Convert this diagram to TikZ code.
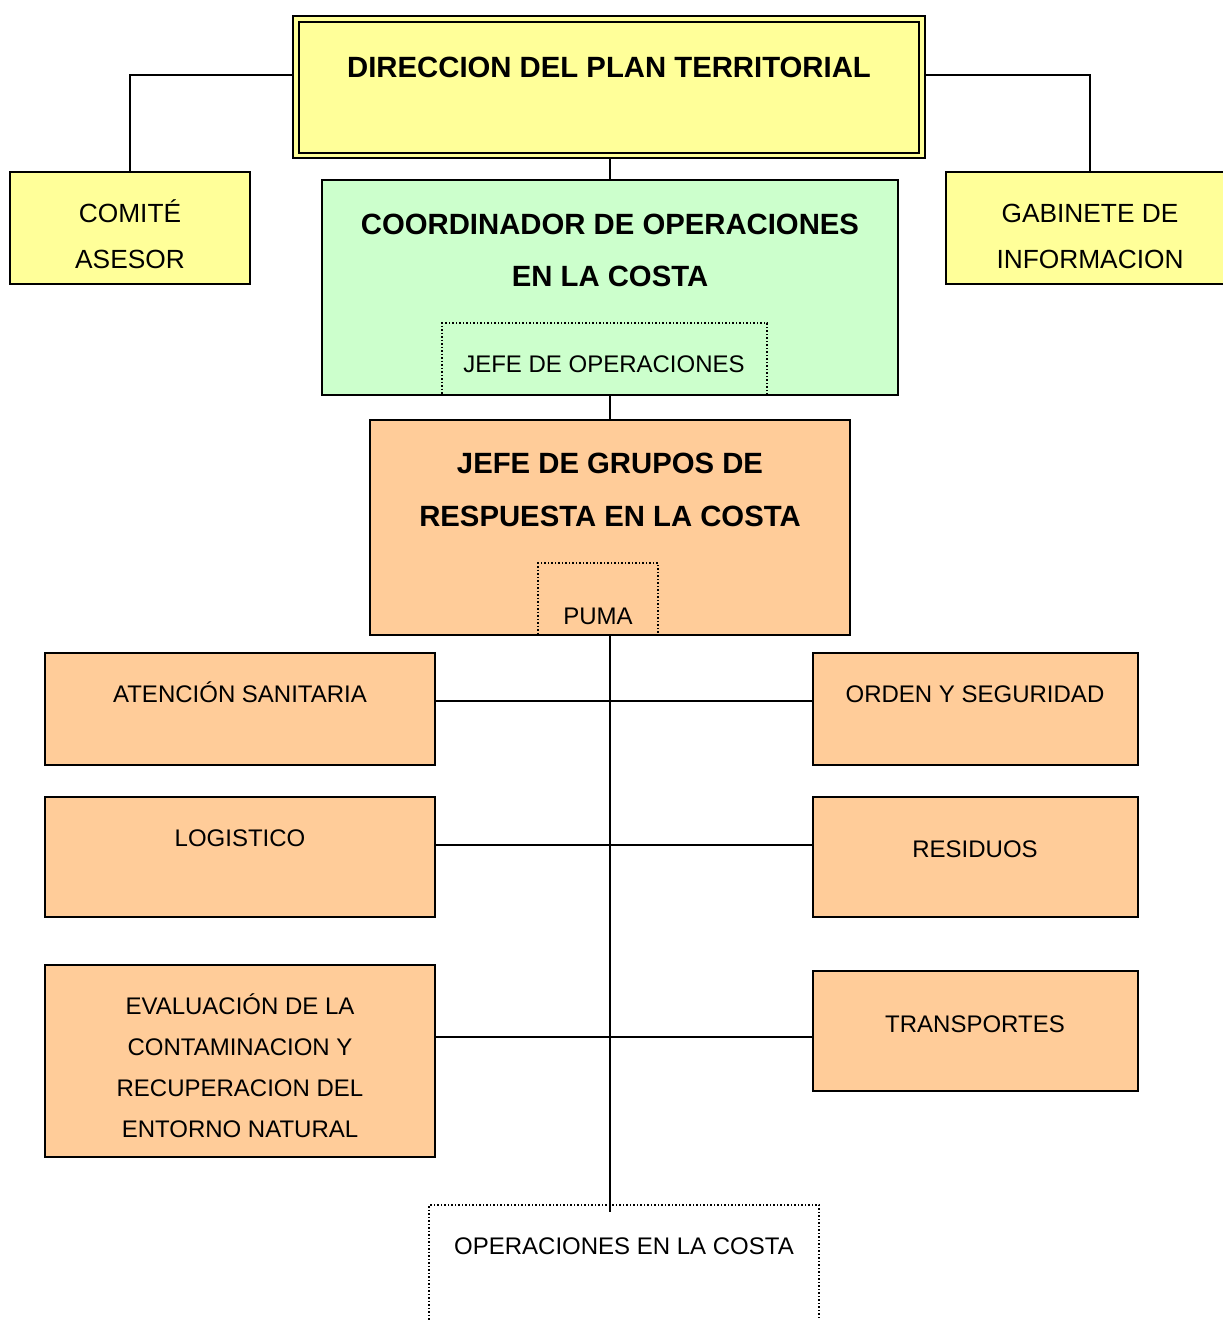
\documentclass[tikz,border=0pt]{standalone}
\usepackage{fontspec}
\setmainfont{Liberation Sans}
\usetikzlibrary{backgrounds}
\definecolor{cyellow}{HTML}{FFFF99}
\definecolor{cgreen}{HTML}{CCFFCC}
\definecolor{corange}{HTML}{FFCC99}
\begin{document}
\begin{tikzpicture}[x=1pt,y=-1pt,
  box/.style={draw=black, line width=1.5pt, inner sep=0pt, outer sep=0pt, rectangle},
  dotbox/.style={draw=black, dotted, line width=1.5pt, inner sep=0pt, outer sep=0pt, rectangle},
  conn/.style={draw=black, line width=1.8pt},
  txt/.style={anchor=base, inner sep=0pt, font=\fontsize{24}{28}\selectfont},
  side/.style={anchor=base, inner sep=0pt, font=\fontsize{26.3}{30}\selectfont},
  bold/.style={anchor=base, inner sep=0pt, font=\fontsize{29.3}{33}\selectfont\bfseries}]
\clip (0,0) rectangle (1223,1320);

% top box
\node[box, fill=cyellow, line width=2pt, double=cyellow, double distance=3.5pt,
      minimum width=626pt, minimum height=136.5pt] (dir) at (609,87.2) {};
\node[bold] (tdir) at (609,77) {DIRECCION DEL PLAN TERRITORIAL};

% side boxes
\node[box, fill=cyellow, minimum width=240pt, minimum height=112pt] (comite) at (130,228) {};
\node[side] (tcom1) at (130,222) {COMITÉ};
\node[side] (tcom2) at (130,268) {ASESOR};
\node[box, fill=cyellow, minimum width=288pt, minimum height=112pt] (gab) at (1090,228) {};
\node[side] (tgab1) at (1090,222) {GABINETE DE};
\node[side] (tgab2) at (1090,268) {INFORMACION};

% coordinador
\node[box, fill=cgreen, minimum width=576pt, minimum height=215pt] (coord) at (610,287.5) {};
\node[bold] (tco1) at (610,234) {COORDINADOR DE OPERACIONES};
\node[bold] (tco2) at (610,286) {EN LA COSTA};
\node[dotbox, minimum width=325pt, minimum height=72pt] (jop) at (604.5,359) {};
\node[txt] (tjop) at (604,372) {JEFE DE OPERACIONES};

% jefe de grupos
\node[box, fill=corange, minimum width=480pt, minimum height=215pt] (jg) at (610,527.5) {};
\node[bold] (tjg1) at (610,473) {JEFE DE GRUPOS DE};
\node[bold] (tjg2) at (610,526) {RESPUESTA EN LA COSTA};
\node[dotbox, minimum width=120pt, minimum height=72pt] (puma) at (598,599) {};
\node[txt] (tpuma) at (598,624) {PUMA};

% groups
\node[box, fill=corange, minimum width=390pt, minimum height=112pt] (aten) at (240,709) {};
\node[txt] (taten) at (240,702) {ATENCIÓN SANITARIA};
\node[box, fill=corange, minimum width=325pt, minimum height=112pt] (orden) at (975.5,709) {};
\node[txt] (torden) at (975,702) {ORDEN Y SEGURIDAD};
\node[box, fill=corange, minimum width=390pt, minimum height=120pt] (logi) at (240,857) {};
\node[txt] (tlogi) at (240,846) {LOGISTICO};
\node[box, fill=corange, minimum width=325pt, minimum height=120pt] (resi) at (975.5,857) {};
\node[txt] (tresi) at (975,857) {RESIDUOS};
\node[box, fill=corange, minimum width=390pt, minimum height=192pt] (eval) at (240,1061) {};
\node[txt] (tev1) at (240,1014) {EVALUACIÓN DE LA};
\node[txt] (tev2) at (240,1055) {CONTAMINACION Y};
\node[txt] (tev3) at (240,1096) {RECUPERACION DEL};
\node[txt] (tev4) at (240,1137) {ENTORNO NATURAL};
\node[box, fill=corange, minimum width=325pt, minimum height=120pt] (trans) at (975.5,1031) {};
\node[txt] (ttrans) at (975,1032) {TRANSPORTES};

% bottom dotted box
\node[dotbox, minimum width=390pt, minimum height=150pt] (ops) at (624,1280) {};
\node[txt] (tops) at (624,1254) {OPERACIONES EN LA COSTA};
\coordinate (lineend) at (610,1212);

\begin{pgfonlayer}{background}
\fill[white] (0,0) rectangle (1223,1320);
\draw[conn] ([yshift=12pt]dir.west) -| (comite.north);
\draw[conn] ([yshift=12pt]dir.east) -| (gab.north);
\draw[conn] (coord.north |- dir.south) -- (coord.north);
\draw[conn] (coord.south) -- (jg.north);
\draw[conn] (jg.south) -- (lineend);
\draw[conn] ([yshift=8pt]aten.east) -- ([yshift=8pt]orden.west);
\draw[conn] ([yshift=12pt]logi.east) -- ([yshift=12pt]resi.west);
\draw[conn] ([yshift=24pt]eval.east) -- ([yshift=-6pt]trans.west);
\end{pgfonlayer}
\end{tikzpicture}
\end{document}
